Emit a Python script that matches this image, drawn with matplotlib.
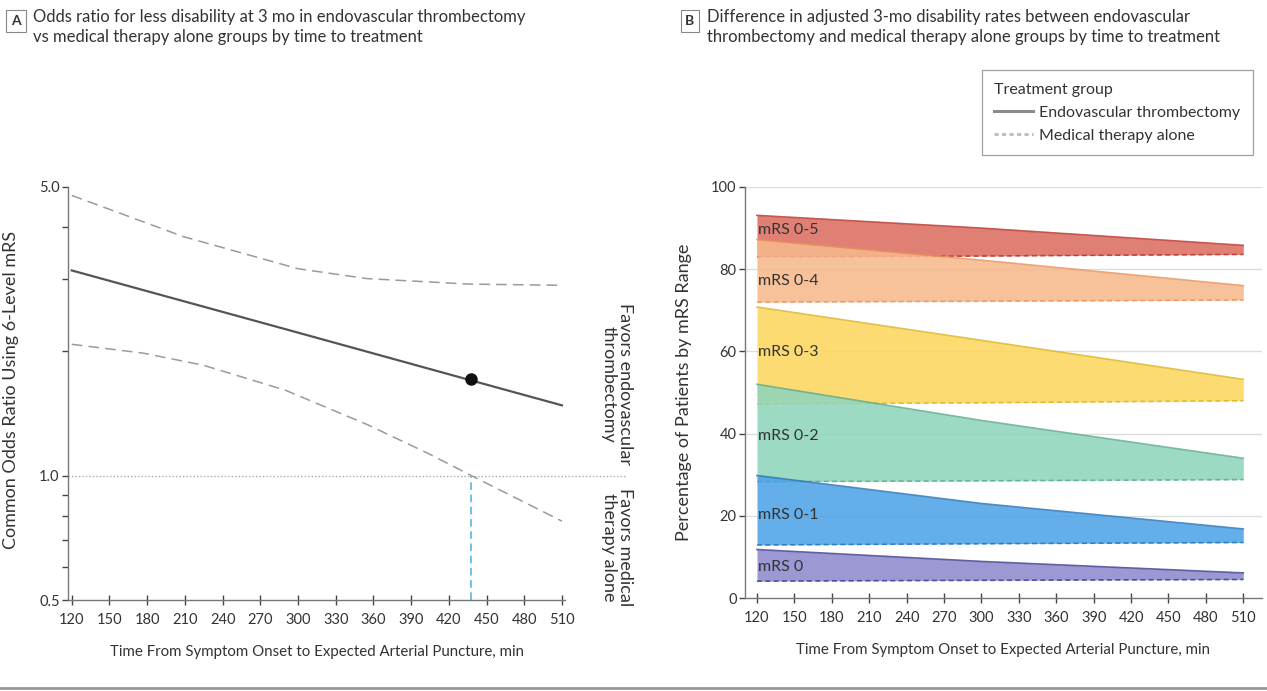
import numpy as np
import matplotlib
matplotlib.use("Agg")
import matplotlib.pyplot as plt
from matplotlib.lines import Line2D
from matplotlib.ticker import FixedLocator, NullFormatter

plt.rcParams['font.family'] = ['Lato', 'DejaVu Sans']

# ---- panel A data (common odds ratio, log scale)
or_time = [120, 300, 438, 510]
or_est = [3.14, 2.22, 1.70, 1.48]
upper_time = [120, 209, 300, 355, 436, 510]
upper_ci = [4.77, 3.79, 3.17, 3.00, 2.91, 2.89]
lower_time = [120, 177, 225, 290, 355, 404, 438, 510]
lower_ci = [2.08, 1.98, 1.85, 1.61, 1.33, 1.13, 1.00, 0.776]
point_time = 438
point_or = 1.71
x_ticks = [120, 150, 180, 210, 240, 270, 300, 330, 360, 390, 420, 450, 480, 510]

# ---- panel B data (percentage of patients)
times_b = [120, 300, 510]
band_names = ['mRS 0-5', 'mRS 0-4', 'mRS 0-3', 'mRS 0-2', 'mRS 0-1', 'mRS 0']
endovascular = [
    [93.1, 90.0, 85.8],
    [87.2, 82.2, 76.0],
    [70.8, 62.7, 53.2],
    [52.0, 43.2, 34.0],
    [29.8, 23.0, 16.8],
    [11.8, 8.9, 6.1],
]
medical = [
    [83.0, 83.2, 83.6],
    [72.0, 72.2, 72.5],
    [47.2, 47.5, 48.0],
    [28.3, 28.5, 28.8],
    [12.9, 13.2, 13.5],
    [4.1, 4.3, 4.5],
]
label_y = [89.6, 77.2, 59.9, 39.5, 20.1, 7.5]
fill_colors = ['#dc6f62', '#f6b98c', '#fcd75f', '#8fd5bb', '#4ea3e6', '#8d8acf']
line_colors = ['#b8302a', '#e8905a', '#d9b420', '#5aa98c', '#2670b8', '#3b3a8c']

W, H = 1267, 691
fig = plt.figure(figsize=(W / 100, H / 100), dpi=100)
txt_col = '#333333'

# panel labels and titles
fig.text(16 / W, 1 - 21 / H, 'A', ha='center', va='center', fontsize=10, fontweight='bold',
         color=txt_col, bbox=dict(boxstyle='square,pad=0.35', fc='white', ec='#888888', lw=0.8))
fig.text(33 / W, 1 - 9 / H, 'Odds ratio for less disability at 3 mo in endovascular thrombectomy\n'
         'vs medical therapy alone groups by time to treatment', ha='left', va='top',
         fontsize=12, color=txt_col, linespacing=1.3)
fig.text(690 / W, 1 - 21 / H, 'B', ha='center', va='center', fontsize=10, fontweight='bold',
         color=txt_col, bbox=dict(boxstyle='square,pad=0.35', fc='white', ec='#888888', lw=0.8))
fig.text(707 / W, 1 - 9 / H, 'Difference in adjusted 3-mo disability rates between endovascular\n'
         'thrombectomy and medical therapy alone groups by time to treatment', ha='left', va='top',
         fontsize=12, color=txt_col, linespacing=1.3)

# ---------------- panel A
axA = fig.add_axes([68 / W, 1 - 600 / H, (565 - 68) / W, 413 / H])
axA.set_yscale('log')
axA.set_xlim(117, 512.4)
axA.set_ylim(0.5, 5.0)

axA.plot(upper_time, upper_ci, color='#9a9a9a', lw=1.1, ls=(0, (7, 4)))
axA.plot(lower_time, lower_ci, color='#9a9a9a', lw=1.1, ls=(0, (7, 4)))
axA.plot(or_time, or_est, color='#555555', lw=1.6)
axA.plot([point_time], [point_or], 'o', color='#111111', ms=8)
axA.plot([point_time, point_time], [0.5, 1.0], color='#4bb0e0', lw=1.1, ls=(0, (5, 3)))
axA.plot([0, 1.125], [1.0, 1.0], transform=axA.get_yaxis_transform(), color='#aaaaaa',
         lw=1.0, ls=(0, (1, 1.5)), clip_on=False)

axA.yaxis.set_major_locator(FixedLocator([0.5, 1.0, 5.0]))
axA.yaxis.set_minor_locator(FixedLocator([0.6, 0.7, 0.8, 0.9, 2, 3, 4]))
axA.yaxis.set_minor_formatter(NullFormatter())
axA.set_yticklabels(['0.5', '1.0', '5.0'])
axA.set_xticks(x_ticks)
for s in ['top', 'right']:
    axA.spines[s].set_visible(False)
for s in ['left', 'bottom']:
    axA.spines[s].set_color('#777777')
    axA.spines[s].set_linewidth(1.0)
axA.tick_params(axis='both', which='both', color='#444444', labelsize=10.5,
                labelcolor=txt_col, width=1.0)
axA.tick_params(axis='y', which='both', direction='out', length=4, pad=2)
axA.tick_params(axis='x', direction='inout', length=7, pad=6)
axA.set_xlabel('Time From Symptom Onset to Expected Arterial Puncture, min', fontsize=10.8,
               color=txt_col, labelpad=13)
axA.set_ylabel('Common Odds Ratio Using 6-Level mRS', fontsize=13, color=txt_col)
axA.yaxis.set_label_coords(19 / W, 1 - 390 / H, transform=fig.transFigure)

fig.text(617 / W, 1 - 465 / H, 'Favors endovascular\nthrombectomy', rotation=-90,
         ha='center', va='bottom', fontsize=13, color=txt_col, linespacing=1.0)
fig.text(617 / W, 1 - 488 / H, 'Favors medical\ntherapy alone', rotation=-90,
         ha='center', va='top', fontsize=13, color=txt_col, linespacing=1.0)

# ---------------- panel B
axB = fig.add_axes([745 / W, 1 - 598 / H, (1262 - 745) / W, 411 / H])
axB.set_xlim(110.4, 525)
axB.set_ylim(0, 100)
for g in [20, 40, 60, 80, 100]:
    axB.axhline(g, color='#dddddd', lw=1.0, zorder=0)

for i, name in enumerate(band_names):
    axB.fill_between(times_b, medical[i], endovascular[i], color=fill_colors[i], alpha=0.88,
                     lw=0, zorder=2 + i)
    axB.plot(times_b, endovascular[i], color=line_colors[i], lw=1.2, alpha=0.8, zorder=2 + i)
    axB.plot(times_b, medical[i], color=line_colors[i], lw=1.2, ls=(0, (3, 2)), alpha=0.8,
             zorder=2 + i)
    axB.text(121, label_y[i], name, ha='left', va='center', fontsize=11.5, color=txt_col,
             zorder=10)

axB.set_yticks([0, 20, 40, 60, 80, 100])
axB.set_xticks(x_ticks)
for s in ['top', 'right']:
    axB.spines[s].set_visible(False)
for s in ['left', 'bottom']:
    axB.spines[s].set_color('#777777')
    axB.spines[s].set_linewidth(1.0)
axB.tick_params(axis='both', color='#444444', labelsize=10.5, labelcolor=txt_col, width=1.0)
axB.tick_params(axis='y', direction='out', length=4, pad=2)
axB.tick_params(axis='x', direction='inout', length=7, pad=6)
axB.set_xlabel('Time From Symptom Onset to Expected Arterial Puncture, min', fontsize=10.8,
               color=txt_col, labelpad=13)
axB.set_ylabel('Percentage of Patients by mRS Range', fontsize=13, color=txt_col)
axB.yaxis.set_label_coords(692 / W, 1 - 392 / H, transform=fig.transFigure)

handles = [Line2D([], [], color='#8a8a8a', lw=2.2),
           Line2D([], [], color='#bbbbbb', lw=2, ls=(0, (1.5, 1.2)))]
leg = fig.legend(handles, ['Endovascular thrombectomy', 'Medical therapy alone'],
                 title='Treatment group', loc='upper right',
                 bbox_to_anchor=(1253 / W, 1 - 70 / H), borderaxespad=0,
                 fontsize=11.5, title_fontsize=11.5,
                 frameon=True, fancybox=False, edgecolor='#888888', handlelength=2.4,
                 handletextpad=0.4, borderpad=0.8, labelspacing=0.55)
leg._legend_box.align = 'left'
leg.get_frame().set_linewidth(0.9)
for t in leg.get_texts():
    t.set_color(txt_col)
leg.get_title().set_color(txt_col)

# bottom rule
fig.add_artist(Line2D([0, 1], [1 - 688 / H, 1 - 688 / H], transform=fig.transFigure,
                      color='#999999', lw=2))

fig.savefig('out.png', dpi=100)
